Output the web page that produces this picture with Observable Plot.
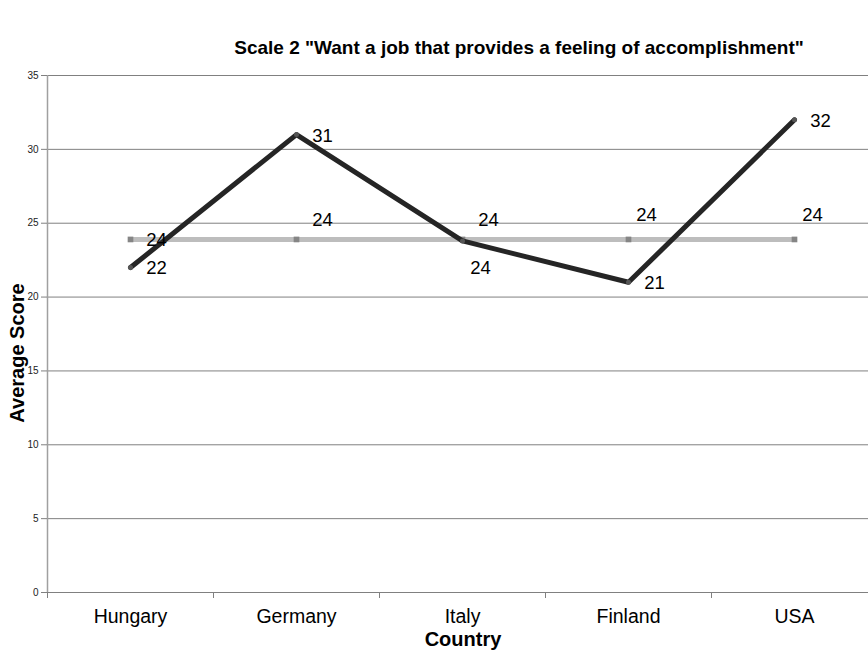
<!DOCTYPE html>
<html>
<head>
<meta charset="utf-8">
<script src="https://cdn.jsdelivr.net/npm/d3@7"></script>
<script src="https://cdn.jsdelivr.net/npm/@observablehq/plot@0.6"></script>
<style>
  html, body { margin: 0; padding: 0; background: #fff; }
  #chart svg { display: block; font-family: "Liberation Sans", Arial, sans-serif; }
</style>
</head>
<body>
<div id="chart"></div>
<script>
const title = 'Scale 2 "Want a job that provides a feeling of accomplishment"';
const xTitle = "Country";
const yTitle = "Average Score";
const countries = ["Hungary", "Germany", "Italy", "Finland", "USA"];
const scores = [22, 31, 23.8, 21, 32];
const averages = [23.9, 23.9, 23.9, 23.9, 23.9];
const yTicks = [0, 5, 10, 15, 20, 25, 30, 35];

const W = 868, H = 652;
const x0 = 47, x1 = 877;
const step = (x1 - x0) / countries.length;

const black = countries.map((c, i) => ({country: c, value: scores[i], i}));
const gray = countries.map((c, i) => ({country: c, value: averages[i], i}));
const fmt = d => d3.format(".0f")(d.value);

const chart = Plot.plot({
  width: W,
  height: H,
  marginTop: 75,
  marginBottom: 60,
  marginLeft: 47,
  marginRight: 0,
  style: {fontFamily: '"Liberation Sans", Arial, sans-serif', background: "#fff"},
  x: {type: "point", domain: countries, range: [x0, x1], padding: 0.5, label: null},
  y: {domain: [0, 35], label: null},
  marks: [
    Plot.ruleY(yTicks, {stroke: "#808080", strokeWidth: 1}),
    Plot.ruleX([countries[0]], {y1: 0, y2: 35, dx: -step / 2, stroke: "#a0a0a0", strokeWidth: 1.5}),
    Plot.ruleX(countries, {y1: 0, y2: 0, dx: -step / 2, insetBottom: -6, stroke: "#808080"}),
    Plot.ruleX(countries.slice(-1), {y1: 0, y2: 0, dx: step / 2, insetBottom: -6, stroke: "#808080"}),
    Plot.axisY({ticks: yTicks, tickSize: 6, tickPadding: 3, fontSize: 10, stroke: "#808080", fill: "#222", label: null}),
    Plot.axisX({tickSize: 0, tickPadding: 17, fontSize: 19.5, fill: "#000", label: null}),
    Plot.line(gray, {x: "country", y: "value", stroke: "#bdbdbd", strokeWidth: 5}),
    Plot.dot(gray, {x: "country", y: "value", symbol: "square", r: 3.2, fill: "#858585"}),
    Plot.line(black, {x: "country", y: "value", stroke: "#252525", strokeWidth: 5, strokeLinecap: "round", strokeLinejoin: "round"}),
    Plot.dot(black, {x: "country", y: "value", r: 2.5, fill: "#555"}),
    Plot.text(black.filter(d => d.i !== 2), {x: "country", y: "value", text: fmt, dx: 26, dy: 1, fontSize: 18.5, fill: "#000"}),
    Plot.text(black.filter(d => d.i === 2), {x: "country", y: "value", text: fmt, dx: 18, dy: 27, fontSize: 18.5, fill: "#000"}),
    Plot.text(gray.filter(d => d.i === 0), {x: "country", y: "value", text: fmt, dx: 26, dy: 1, fontSize: 18.5, fill: "#000"}),
    Plot.text(gray.filter(d => d.i === 1 || d.i === 2), {x: "country", y: "value", text: fmt, dx: 26, dy: -19, fontSize: 18.5, fill: "#000"}),
    Plot.text(gray.filter(d => d.i >= 3), {x: "country", y: "value", text: fmt, dx: 18, dy: -24, fontSize: 18.5, fill: "#000"}),
    Plot.text([title], {frameAnchor: "top", lineAnchor: "middle", textAnchor: "middle", dy: -28, dx: 61, fontSize: 19, fontWeight: "bold", fill: "#000"}),
    Plot.text([yTitle], {frameAnchor: "left", lineAnchor: "middle", textAnchor: "middle", rotate: -90, dx: -30, dy: 19, fontSize: 20, fontWeight: "bold", fill: "#000"}),
    Plot.text([xTitle], {frameAnchor: "bottom", lineAnchor: "middle", textAnchor: "middle", dy: 47, dx: 5, fontSize: 20, fontWeight: "bold", fill: "#000"})
  ]
});
document.getElementById("chart").appendChild(chart);
</script>
</body>
</html>
